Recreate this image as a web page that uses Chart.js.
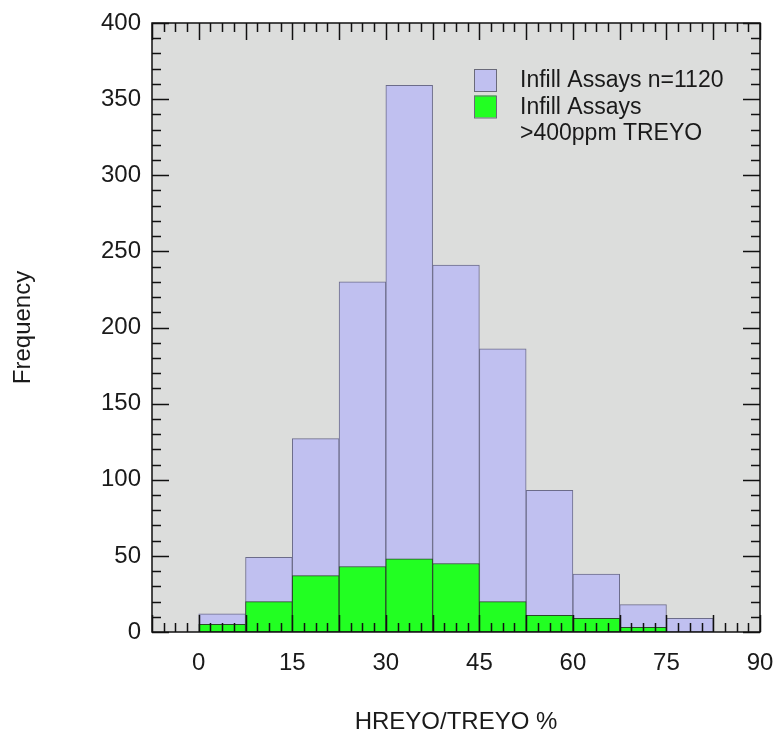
<!DOCTYPE html>
<html>
<head>
<meta charset="utf-8">
<script src="https://cdn.jsdelivr.net/npm/chart.js@4.4.1/dist/chart.umd.min.js"></script>
<style>
html, body { margin: 0; padding: 0; background: #fff; }
#wrap { width: 774px; height: 738px; }
</style>
</head>
<body>
<div id="wrap"><canvas id="histChart"></canvas></div>
<script>
// bins are 7.5 wide, starting at 0
const binCenters = [3.75, 11.25, 18.75, 26.25, 33.75, 41.25, 48.75, 56.25, 63.75, 71.25, 78.75];
const allAssays = [12, 49, 127, 230, 359, 241, 186, 93, 38, 18, 9];
const highGrade = [5, 20, 37, 43, 48, 45, 20, 11, 9, 3, 0];
const xTickLabels = [0, 15, 30, 45, 60, 75, 90];
const yTickLabels = [0, 50, 100, 150, 200, 250, 300, 350, 400];
const seriesNames = ['Infill Assays n=1120', 'Infill Assays\n>400ppm TREYO'];

const FONT = "'Liberation Sans', Arial, sans-serif";
const purple = 'rgb(192, 192, 240)';
const green = 'rgb(34, 255, 34)';

const plotBg = {
    id: 'plotBg',
    beforeDraw(chart) {
        const {ctx, chartArea: a} = chart;
        ctx.save();
        ctx.fillStyle = 'rgb(220, 221, 220)';
        ctx.fillRect(a.left, a.top, a.right - a.left, a.bottom - a.top);
        ctx.restore();
    }
};

// frame + inward tick marks on all four sides
const frameTicks = {
    id: 'frameTicks',
    afterDatasetsDraw(chart) {
        const {ctx, chartArea: a, scales} = chart;
        const x = scales.x, y = scales.y;
        ctx.save();
        ctx.strokeStyle = '#111';
        ctx.lineWidth = 1.5;
        ctx.beginPath();
        for (let i = 0; i <= 52; i++) {
            const v = -7.5 + i * 1.875;
            const px = Math.round(x.getPixelForValue(v)) + 0.5;
            const len = i % 4 === 0 ? 17 : 9;
            ctx.moveTo(px, a.bottom); ctx.lineTo(px, a.bottom - len);
            ctx.moveTo(px, a.top); ctx.lineTo(px, a.top + len);
        }
        for (let v = 0; v <= 400; v += 10) {
            const py = Math.round(y.getPixelForValue(v)) + 0.5;
            const len = v % 50 === 0 ? 17 : 9;
            ctx.moveTo(a.left, py); ctx.lineTo(a.left + len, py);
            ctx.moveTo(a.right, py); ctx.lineTo(a.right - len, py);
        }
        ctx.stroke();
        ctx.strokeRect(a.left, a.top, a.right - a.left, a.bottom - a.top);
        ctx.restore();
    }
};

const boxLegend = {
    id: 'boxLegend',
    afterDatasetsDraw(chart) {
        const ctx = chart.ctx;
        const colors = [purple, green];
        ctx.save();
        ctx.font = '23px ' + FONT;
        ctx.textBaseline = 'middle';
        let lineY = 80;
        seriesNames.forEach((name, i) => {
            ctx.fillStyle = colors[i];
            ctx.fillRect(474, lineY - 11, 22, 22);
            ctx.strokeStyle = '#6a6a7a';
            ctx.lineWidth = 1;
            ctx.strokeRect(474.5, lineY - 10.5, 22, 22);
            ctx.fillStyle = '#1a1a1a';
            name.split('\n').forEach(line => {
                ctx.fillText(line, 520, lineY + 1);
                lineY += 26.5;
            });
        });
        ctx.restore();
    }
};

const noEdgePad = (s) => {
    s.paddingLeft = 0; s.paddingRight = 0;
    s.paddingTop = 0; s.paddingBottom = 0;
};

new Chart(document.getElementById('histChart'), {
    type: 'bar',
    data: {
        datasets: [
            {
                label: seriesNames[0],
                data: binCenters.map((c, i) => ({x: c, y: allAssays[i]})),
                backgroundColor: purple,
                borderColor: '#6c6c8a',
                borderWidth: 1,
                borderSkipped: false,
                order: 2
            },
            {
                label: seriesNames[1],
                data: binCenters.map((c, i) => ({x: c, y: highGrade[i]})),
                backgroundColor: green,
                borderColor: '#2a4a2a',
                borderWidth: 1,
                borderSkipped: false,
                order: 1
            }
        ]
    },
    options: {
        responsive: true,
        maintainAspectRatio: false,
        animation: false,
        layout: {padding: {left: 9, right: 14, top: 23, bottom: 1}},
        datasets: {
            bar: {grouped: false, barPercentage: 1, categoryPercentage: 1}
        },
        scales: {
            x: {
                type: 'linear',
                offset: false,
                min: -7.5,
                max: 90,
                grid: {display: false, drawTicks: false, offset: false},
                border: {display: false},
                afterFit: (s) => { s.height = 105; noEdgePad(s); },
                ticks: {
                    stepSize: 7.5,
                    padding: 17,
                    autoSkip: false,
                    maxRotation: 0,
                    color: '#1a1a1a',
                    font: {family: FONT, size: 24},
                    callback: (v) => xTickLabels.includes(v) ? String(v) : ''
                },
                title: {
                    display: true,
                    text: 'HREYO/TREYO %',
                    color: '#1a1a1a',
                    padding: 0,
                    font: {family: FONT, size: 24}
                }
            },
            y: {
                min: 0,
                max: 400,
                grid: {display: false, drawTicks: false},
                border: {display: false},
                afterFit: (s) => { s.width = 143; noEdgePad(s); },
                ticks: {
                    stepSize: 50,
                    padding: 11,
                    color: '#1a1a1a',
                    font: {family: FONT, size: 24},
                    callback: (v) => yTickLabels.includes(v) ? String(v) : ''
                },
                title: {
                    display: true,
                    text: 'Frequency',
                    color: '#1a1a1a',
                    padding: 0,
                    font: {family: FONT, size: 24}
                }
            }
        },
        plugins: {
            legend: {display: false},
            tooltip: {enabled: true}
        }
    },
    plugins: [plotBg, frameTicks, boxLegend]
});
</script>
</body>
</html>
